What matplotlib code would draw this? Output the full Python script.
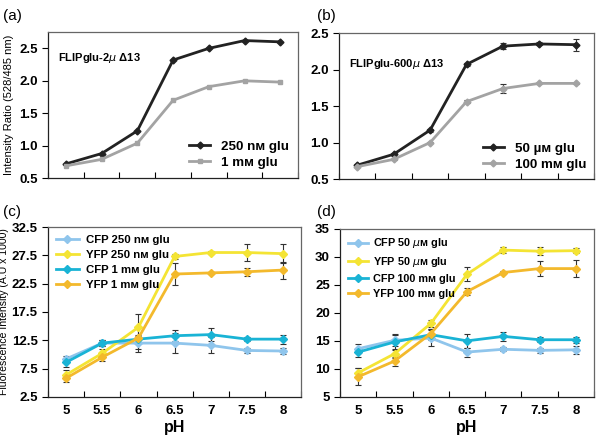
import matplotlib
matplotlib.use("Agg")
import matplotlib.pyplot as plt
import numpy as np

plt.rcParams['font.family'] = ['Liberation Sans', 'DejaVu Sans']
plt.rcParams['mathtext.fontset'] = 'dejavusans'

ph = ['5', '5.5', '6', '6.5', '7', '7.5', '8']

# panel (a) FLIPglu-2u D13
a_250nm = [0.72, 0.88, 1.23, 2.32, 2.50, 2.62, 2.60]
a_1mm = [0.69, 0.79, 1.04, 1.70, 1.91, 2.00, 1.98]

# panel (b) FLIPglu-600u D13
b_50um = [0.69, 0.84, 1.17, 2.07, 2.32, 2.35, 2.34]
b_50um_err = [0.01, 0.02, 0.02, 0.02, 0.04, 0.02, 0.08]
b_100mm = [0.67, 0.77, 1.00, 1.56, 1.74, 1.81, 1.81]
b_100mm_err = [0.01, 0.01, 0.01, 0.02, 0.06, 0.01, 0.01]

# panel (c)
c_cfp_250 = [9.2, 12.0, 12.0, 12.0, 11.6, 10.7, 10.6]
c_cfp_250_err = [0.6, 0.5, 1.5, 1.8, 1.4, 0.5, 0.6]
c_yfp_250 = [6.4, 10.2, 14.8, 27.3, 28.0, 28.0, 27.8]
c_yfp_250_err = [0.8, 0.7, 2.3, 0.5, 0.2, 1.5, 1.7]
c_cfp_1 = [8.6, 12.0, 12.7, 13.3, 13.5, 12.7, 12.7]
c_cfp_1_err = [0.8, 0.5, 0.5, 1.0, 1.2, 0.3, 0.8]
c_yfp_1 = [5.8, 9.5, 12.9, 24.2, 24.4, 24.6, 24.9]
c_yfp_1_err = [0.6, 0.7, 2.0, 2.0, 0.2, 0.7, 1.5]

# panel (d)
d_cfp_50 = [13.6, 15.1, 15.5, 13.0, 13.5, 13.3, 13.4]
d_cfp_50_err = [0.8, 1.0, 1.5, 0.8, 0.4, 0.4, 0.7]
d_yfp_50 = [9.3, 12.7, 18.1, 26.9, 31.2, 31.0, 31.1]
d_yfp_50_err = [0.8, 0.8, 0.6, 1.2, 0.5, 0.7, 0.5]
d_cfp_100 = [13.0, 14.8, 16.1, 15.0, 15.8, 15.2, 15.2]
d_cfp_100_err = [0.8, 1.5, 1.0, 1.2, 0.8, 0.4, 0.5]
d_yfp_100 = [8.6, 11.4, 16.3, 23.8, 27.2, 27.9, 27.9]
d_yfp_100_err = [1.5, 0.8, 0.8, 0.6, 0.3, 1.4, 1.5]

x = np.arange(len(ph))

BLACK = '#222222'
GREY = '#a3a3a3'
CFP_L = '#8fc5ec'
YFP_Y = '#f4e434'
CFP_D = '#19b3d5'
YFP_O = '#f3b92c'

fig = plt.figure(figsize=(6, 4.4), dpi=100)
ax_a = fig.add_axes([0.08, 0.595, 0.417, 0.332])
ax_b = fig.add_axes([0.565, 0.593, 0.425, 0.332])
ax_c = fig.add_axes([0.08, 0.098, 0.422, 0.386])
ax_d = fig.add_axes([0.567, 0.098, 0.423, 0.382])


def style(ax, labels):
    ax.set_xlim(-0.5, len(ph) - 0.5)
    ax.set_xticks(np.arange(-0.5, len(ph)), minor=False)
    ax.set_xticks(x, minor=True)
    ax.tick_params(axis='x', which='major', length=4, direction='in', labelbottom=False)
    ax.tick_params(axis='x', which='minor', length=0, labelsize=9.5)
    if labels:
        ax.set_xticklabels(ph, minor=True, fontweight='bold')
        ax.tick_params(axis='x', which='minor', labelbottom=True, pad=6)
    ax.tick_params(axis='y', length=4, direction='out', labelsize=9.5)
    for t in ax.get_yticklabels():
        t.set_fontweight('bold')
    for s in ['top', 'right']:
        ax.spines[s].set_color('#666666')
        ax.spines[s].set_linewidth(0.9)
    for s in ['left', 'bottom']:
        ax.spines[s].set_color('#222222')
        ax.spines[s].set_linewidth(0.9)


def series(ax, y, err, color, ms=4):
    c = ax.errorbar(x, y, yerr=err, color=color, lw=2, marker='D', ms=ms,
                    ecolor='#333333', elinewidth=0.8, capsize=2.5, capthick=0.8)
    return c[0]


# (a)
ax_a.plot(x, a_250nm, color=BLACK, lw=2, marker='D', ms=3.5, label='250 nᴍ glu')
ax_a.plot(x, a_1mm, color=GREY, lw=2, marker='s', ms=3.5, label='1 mᴍ glu')
ax_a.set_ylim(0.5, 2.75)
ax_a.set_yticks([0.5, 1.0, 1.5, 2.0, 2.5])
ax_a.set_yticklabels(['0.5', '1.0', '1.5', '2.0', '2.5'])
style(ax_a, False)
ax_a.set_ylabel('Intensity Ratio (528/485 nm)', fontsize=8, labelpad=4)
ax_a.text(0.04, 0.8, 'FLIPglu-2$\\mu$ Δ13', transform=ax_a.transAxes,
          fontsize=8, fontweight='bold')
ax_a.legend(loc='lower right', frameon=False, prop={'size': 9.6, 'weight': 'bold'},
            handlelength=1.6, borderaxespad=0.3, labelspacing=0.3)

# (b)
hb = [series(ax_b, b_50um, b_50um_err, BLACK, ms=3.5),
      series(ax_b, b_100mm, b_100mm_err, GREY, ms=3.5)]
ax_b.set_ylim(0.5, 2.5)
ax_b.set_yticks([0.5, 1.0, 1.5, 2.0, 2.5])
ax_b.set_yticklabels(['0.5', '1.0', '1.5', '2.0', '2.5'])
style(ax_b, False)
ax_b.text(0.04, 0.77, 'FLIPglu-600$\\mu$ Δ13', transform=ax_b.transAxes,
          fontsize=8, fontweight='bold')
ax_b.legend(hb, ['50 µᴍ glu', '100 mᴍ glu'], loc='lower right', frameon=False,
            prop={'size': 9.6, 'weight': 'bold'},
            handlelength=1.6, borderaxespad=0.2, labelspacing=0.3)

# (c)
hc = [series(ax_c, c_cfp_250, c_cfp_250_err, CFP_L),
      series(ax_c, c_yfp_250, c_yfp_250_err, YFP_Y),
      series(ax_c, c_cfp_1, c_cfp_1_err, CFP_D),
      series(ax_c, c_yfp_1, c_yfp_1_err, YFP_O)]
ax_c.set_ylim(2.5, 32.5)
ax_c.set_yticks([2.5, 7.5, 12.5, 17.5, 22.5, 27.5, 32.5])
ax_c.set_yticklabels(['2.5', '7.5', '12.5', '17.5', '22.5', '27.5', '32.5'])
style(ax_c, True)
ax_c.set_ylabel('Fluorescence Intensity (A.U x 1000)', fontsize=7.6, labelpad=2)
ax_c.set_xlabel('pH', fontsize=11.5, fontweight='bold', labelpad=2)
ax_c.legend(hc, ['CFP 250 nᴍ glu', 'YFP 250 nᴍ glu', 'CFP 1 mᴍ glu', 'YFP 1 mᴍ glu'],
            loc='upper left', frameon=False,
            prop={'size': 8.2, 'weight': 'bold'},
            handlelength=2.0, handletextpad=0.6, borderaxespad=0.3,
            labelspacing=0.45)

# (d)
hd = [series(ax_d, d_cfp_50, d_cfp_50_err, CFP_L),
      series(ax_d, d_yfp_50, d_yfp_50_err, YFP_Y),
      series(ax_d, d_cfp_100, d_cfp_100_err, CFP_D),
      series(ax_d, d_yfp_100, d_yfp_100_err, YFP_O)]
ax_d.set_ylim(5, 35)
ax_d.set_yticks([5, 10, 15, 20, 25, 30, 35])
style(ax_d, True)
for t in ax_d.get_yticklabels():
    t.set_fontweight('bold')
ax_d.set_xlabel('pH', fontsize=11.5, fontweight='bold', labelpad=2)
ax_d.legend(hd, ['CFP 50 $\\mu$ᴍ glu', 'YFP 50 $\\mu$ᴍ glu', 'CFP 100 mᴍ glu',
                 'YFP 100 mᴍ glu'],
            loc='upper left', frameon=False,
            prop={'size': 7.8, 'weight': 'bold'},
            handlelength=1.9, handletextpad=0.4, borderaxespad=0.3,
            labelspacing=0.45)

for lab, px, py in [('(a)', 0.005, 0.955), ('(b)', 0.528, 0.955),
                    ('(c)', 0.005, 0.51), ('(d)', 0.528, 0.51)]:
    fig.text(px, py, lab, fontsize=11)

fig.savefig('out.png', dpi=100)
